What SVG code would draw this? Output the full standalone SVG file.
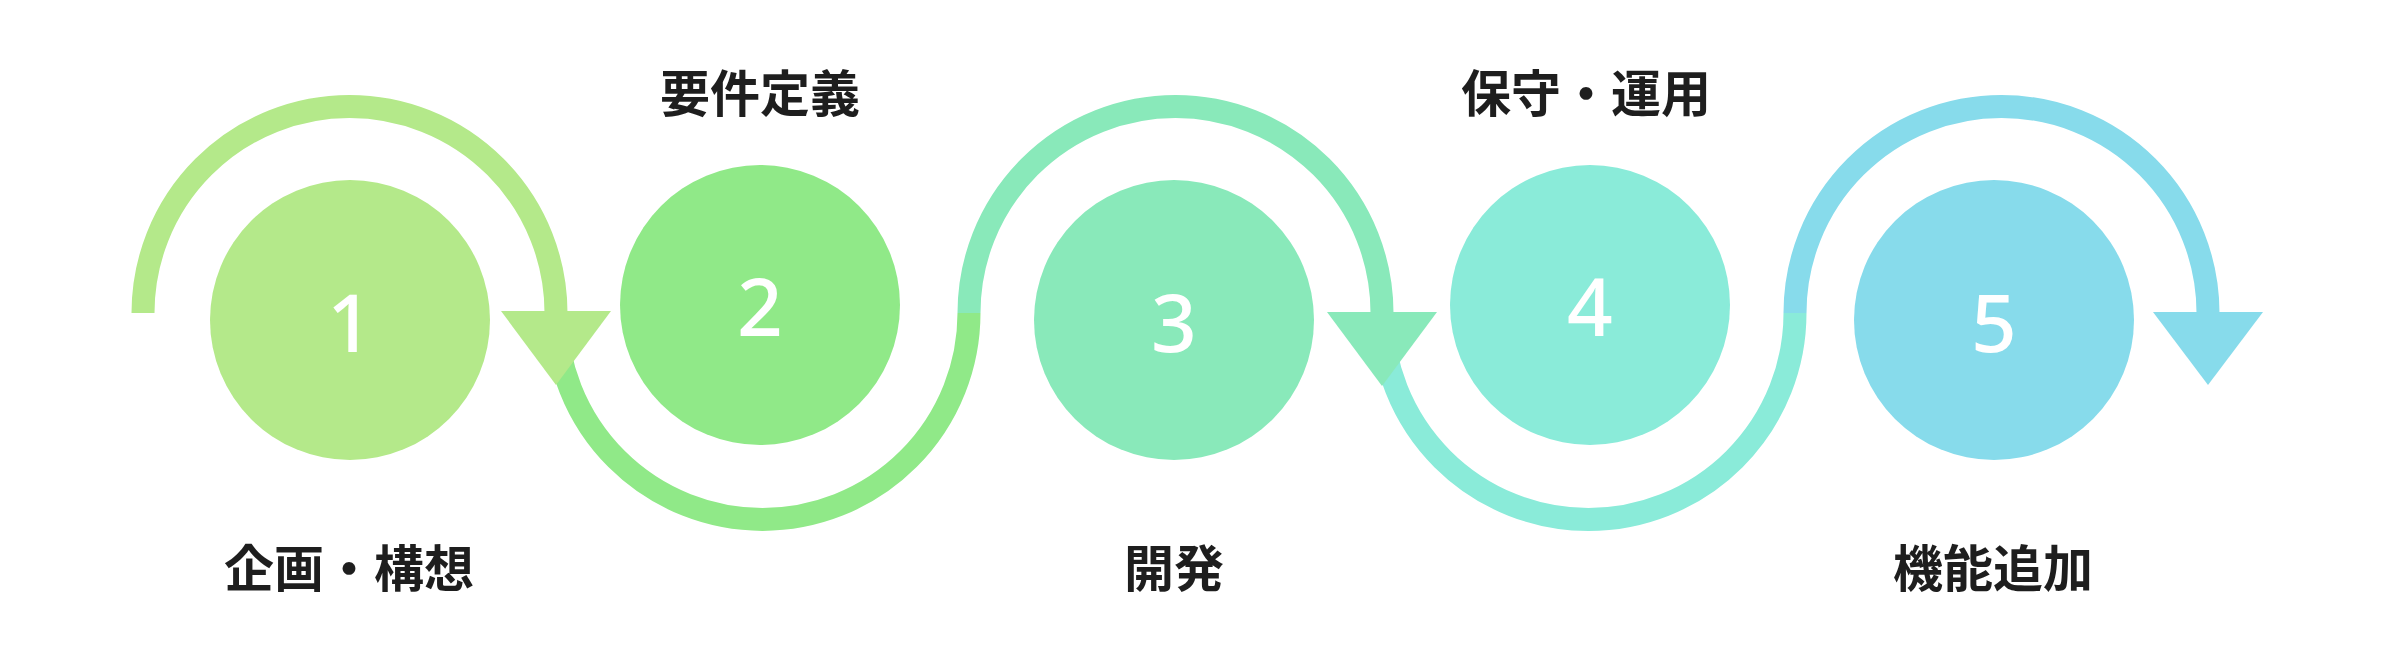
<svg xmlns="http://www.w3.org/2000/svg" width="2398" height="658" viewBox="0 0 2398 658">
  <style>
    .arc { fill: none; stroke-width: 23; stroke-linecap: butt; }
    .num { font-family: "Noto Sans", "Open Sans", sans-serif; font-size: 80px; font-weight: 500; fill: #ffffff; text-anchor: middle; }
    .lbl { font-family: "Noto Sans CJK JP", "Noto Sans CJK SC", sans-serif; font-size: 50px; font-weight: 700; fill: #1e1e1e; text-anchor: middle; }
  </style>
  <rect width="2398" height="658" fill="#ffffff"/>
  <g id="connectors">
    <path class="arc" stroke="#b4e98a" d="M 143 313 A 206.5 206.5 0 0 1 556 313"/>
    <path class="arc" stroke="#90e988" d="M 556 313 A 206.5 206.5 0 0 0 969 313"/>
    <polygon fill="#b4e98a" points="501,311 611,311 556,385"/>
    <path class="arc" stroke="#89e9ba" d="M 969 313 A 206.5 206.5 0 0 1 1382 313"/>
    <path class="arc" stroke="#8aebd9" d="M 1382 313 A 206.5 206.5 0 0 0 1795 313"/>
    <polygon fill="#89e9ba" points="1327,312 1437,312 1382,386"/>
    <path class="arc" stroke="#87dbeb" d="M 1795 313 A 206.5 206.5 0 0 1 2208 313"/>
    <polygon fill="#87dbeb" points="2153,312 2263,312 2208,385"/>
  </g>
  <g id="node1">
    <circle cx="350" cy="320" r="140" fill="#b4e98a"/>
    <text class="num" x="350" y="352">1</text>
    <text class="lbl" x="349" y="587">企画・構想</text>
  </g>
  <g id="node2">
    <circle cx="760" cy="305" r="140" fill="#90e988"/>
    <text class="num" x="760" y="336">2</text>
    <text class="lbl" x="760" y="112">要件定義</text>
  </g>
  <g id="node3">
    <circle cx="1174" cy="320" r="140" fill="#89e9ba"/>
    <text class="num" x="1174" y="352">3</text>
    <text class="lbl" x="1174" y="587">開発</text>
  </g>
  <g id="node4">
    <circle cx="1590" cy="305" r="140" fill="#8aebd9"/>
    <text class="num" x="1590" y="336">4</text>
    <text class="lbl" x="1586" y="112">保守・運用</text>
  </g>
  <g id="node5">
    <circle cx="1994" cy="320" r="140" fill="#87dbeb"/>
    <text class="num" x="1994" y="352">5</text>
    <text class="lbl" x="1993" y="587">機能追加</text>
  </g>
</svg>
